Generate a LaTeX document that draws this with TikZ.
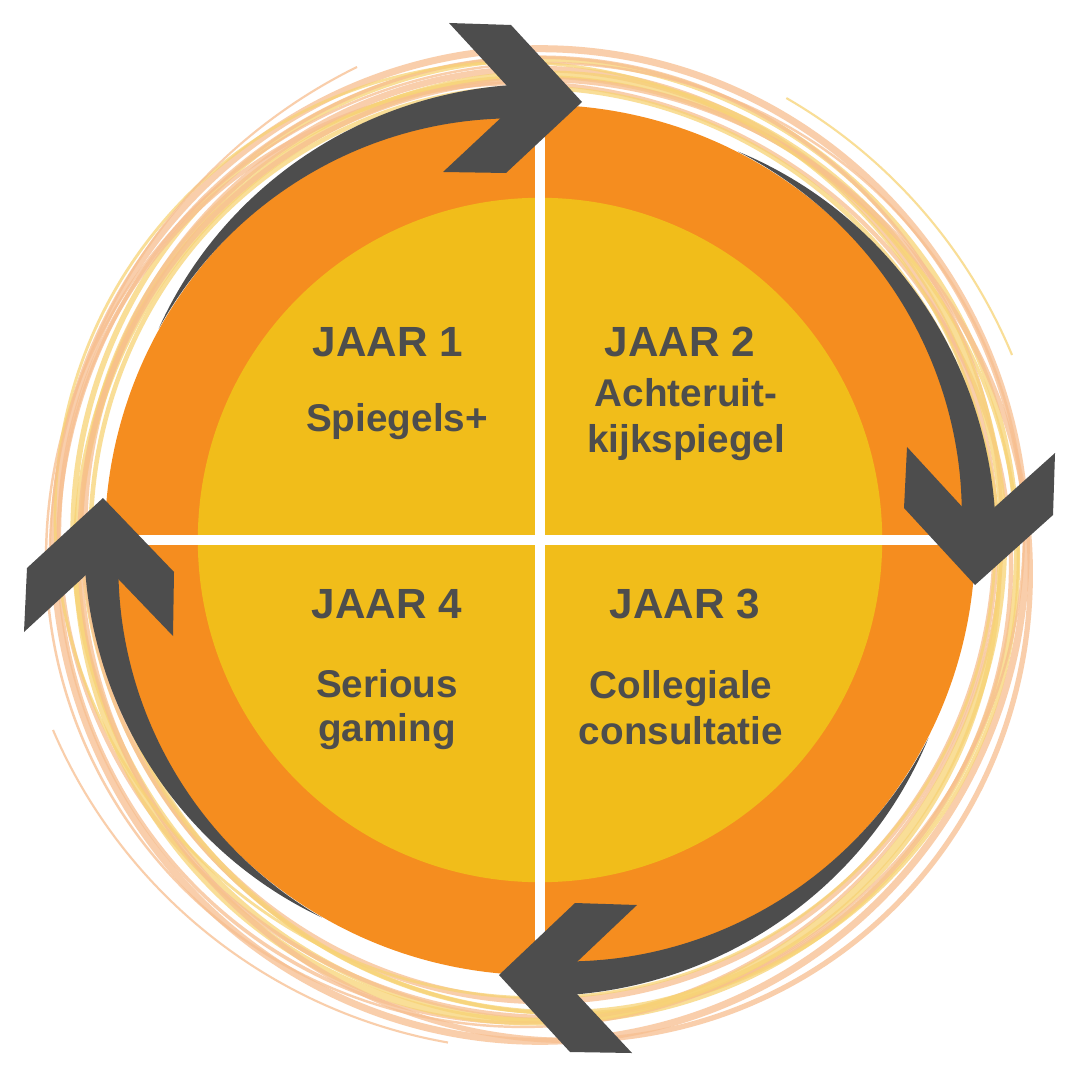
\documentclass[tikz,border=0pt]{standalone}
\usepackage{fontspec}
\setmainfont{Liberation Sans}
\definecolor{orng}{HTML}{F58D1F}
\definecolor{ylw}{HTML}{F1BD1A}
\definecolor{dgray}{HTML}{4D4D4D}
\definecolor{peach}{HTML}{F7BE8F}
\definecolor{lyel}{HTML}{F7D375}
\newcommand{\grayshaft}[2]{%
  \fill[dgray] plot[domain=#1:#2, samples=60, variable=\t]
    ({540+(436+20*(2*((\t-#1)/(#2-#1))-((\t-#1)/(#2-#1))^2))*cos(\t)}, {540+(436+20*(2*((\t-#1)/(#2-#1))-((\t-#1)/(#2-#1))^2))*sin(\t)})
    -- plot[domain=#2:#1, samples=60, variable=\t]
    ({540+(436-16*((\t-#1)/(#2-#1))^2)*cos(\t)}, {540+(436-16*((\t-#1)/(#2-#1))^2)*sin(\t)})
    -- cycle;}
\begin{document}
\begin{tikzpicture}[x=0.01cm,y=-0.01cm,
  scribP/.style={draw=peach, opacity=0.75},
  scribY/.style={draw=lyel, opacity=0.75},
  chev/.style={fill=dgray},
  head/.style={font=\bfseries\fontsize{12}{14}\selectfont, text=dgray, anchor=base, inner sep=0pt},
  sub/.style={font=\bfseries\fontsize{11}{13}\selectfont, text=dgray, anchor=base, inner sep=0pt}]
\useasboundingbox (0,0) rectangle (1080,1080);
\fill[white] (0,0) rectangle (1080,1080);

% scribble rings
\draw[scribP, line width=2.0pt, rotate around={0:(540,545)}] (540,545) ellipse [x radius=4.86cm, y radius=4.96cm];
\draw[scribY, line width=1.6pt, rotate around={20:(545,540)}] (545,540) ellipse [x radius=4.70cm, y radius=4.82cm];
\draw[scribP, line width=1.2pt, rotate around={-30:(535,550)}] (535,550) ellipse [x radius=4.80cm, y radius=4.62cm];
\draw[scribY, line width=1.0pt, rotate around={45:(550,545)}] (550,545) ellipse [x radius=4.60cm, y radius=4.76cm];
\draw[scribP, line width=1.0pt, rotate around={70:(530,540)}] (530,540) ellipse [x radius=4.84cm, y radius=4.70cm];
\draw[scribP, line width=1.8pt, rotate around={10:(540,535)}] (540,535) ellipse [x radius=4.55cm, y radius=4.66cm];
\draw[scribY, line width=1.3pt, rotate around={-60:(545,550)}] (545,550) ellipse [x radius=4.66cm, y radius=4.50cm];
\draw[scribP, line width=0.7pt, rotate around={30:(535,545)}] (535,545) ellipse [x radius=4.92cm, y radius=4.78cm];
\draw[scribY, line width=2.2pt, rotate around={-15:(540,548)}] (540,548) ellipse [x radius=4.62cm, y radius=4.74cm];
\draw[scribP, line width=1.5pt, rotate around={35:(555,560)}] (555,560) ellipse [x radius=4.70cm, y radius=4.85cm];
\draw[scribY, line width=0.8pt, rotate around={-40:(525,530)}] (525,530) ellipse [x radius=4.75cm, y radius=4.62cm];
\draw[scribP, line width=0.6pt] (357,67) arc[start angle=116.2, end angle=180, radius=5.5cm];
\draw[scribY, line width=0.6pt] (1012,355) arc[start angle=22.6, end angle=60, radius=5.33cm];
\draw[scribP, line width=0.6pt] (53,730) arc[start angle=-156.7, end angle=-100, radius=5.3cm];

% disc
\fill[orng] (540,540) circle [radius=4.35cm];
\fill[ylw] (540,540) circle [radius=3.42cm];
\begin{scope}
  \clip (540,540) circle [radius=4.35cm];
  \fill[white] (535,100) rectangle (545,980);
  \fill[white] (100,535) rectangle (980,545);
\end{scope}

% gray arrow shafts
\grayshaft{209}{271.4}
\grayshaft{297}{362}
\grayshaft{27}{91.2}
\grayshaft{120}{181.3}

% arrow heads
\fill[chev] (449,23) -- (511,25) -- (582,102) -- (506,173) -- (443,172) -- (520,100) -- cycle;
\fill[chev] (907,447) -- (977,523) -- (1055,453) -- (1053,515) -- (975,585) -- (904,508) -- cycle;
\fill[chev] (499,975) -- (575,903) -- (637,905) -- (561,977) -- (632,1053) -- (570,1052) -- cycle;
\fill[chev] (103,498) -- (174,572) -- (173,636) -- (101,561) -- (24,632) -- (27,568) -- cycle;

% labels
\node[head] (j1) at (388,357) {JAAR 1};
\node[sub]  (s1) at (397,432) {Spiegels+};
\node[head] (j2) at (680,357) {JAAR 2};
\node[sub]  (s2a) at (686,407) {Achteruit-};
\node[sub]  (s2b) at (686,453) {kijkspiegel};
\node[head] (j3) at (685,618) {JAAR 3};
\node[sub]  (s3a) at (681,698) {Collegiale};
\node[sub]  (s3b) at (681,744) {consultatie};
\node[head] (j4) at (387,618) {JAAR 4};
\node[sub]  (s4a) at (387,697) {Serious};
\node[sub]  (s4b) at (387,741) {gaming};
\end{tikzpicture}
\end{document}
